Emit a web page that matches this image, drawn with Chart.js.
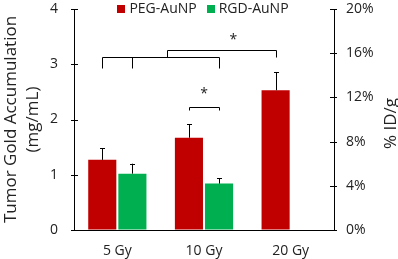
<!DOCTYPE html>
<html>
<head>
<meta charset="utf-8">
<script src="https://cdn.jsdelivr.net/npm/chart.js@4.4.1/dist/chart.umd.min.js"></script>
<style>
  html, body { margin: 0; padding: 0; background: #fff; }
  #wrap { width: 398px; height: 259px; }
</style>
</head>
<body>
<div id="wrap"><canvas id="c" width="398" height="259"></canvas></div>
<script>
// ---- data ----
const categories = ['5 Gy', '10 Gy', '20 Gy'];
const pegValues = [1.27, 1.67, 2.53];
const pegErrors = [0.21, 0.24, 0.33];
const rgdValues = [1.02, 0.84, null];
const rgdErrors = [0.18, 0.10, null];
const leftTicks = [0, 1, 2, 3, 4];
const rightTicks = [0, 4, 8, 12, 16, 20];
const seriesNames = ['PEG-AuNP', 'RGD-AuNP'];
const leftTitle = ['Tumor Gold Accumulation', '(mg/mL)'];
const rightTitle = '% ID/g';
// significance brackets: points are [x-ref, y-value]; x-ref is a bar {d,i} or a category position {c}
const bracketPaths = [
  [[{d:0,i:0}, 2.93], [{d:0,i:0}, 3.125], [{d:1,i:1}, 3.125], [{d:1,i:1}, 2.93]],
  [[{d:1,i:0}, 3.125], [{d:1,i:0}, 2.93]],
  [[{c:0.57}, 3.125], [{c:0.57}, 3.26], [{d:0,i:2}, 3.26], [{d:0,i:2}, 3.125]],
  [[{d:0,i:1}, 2.18], [{d:0,i:1}, 2.23], [{d:1,i:1}, 2.23], [{d:1,i:1}, 2.18]]
];
const stars = [[{c:1.34}, 3.44], [{c:1.0}, 2.46]];

const FONT = "'Open Sans', 'Noto Sans', sans-serif";
const TXT = '#222';

const overlay = {
  id: 'overlay',
  afterDatasetsDraw(chart) {
    const ctx = chart.ctx;
    const y = chart.scales.y, x = chart.scales.x, y2 = chart.scales.y2;
    const errs = [pegErrors, rgdErrors];
    ctx.save();
    ctx.strokeStyle = '#000';
    ctx.lineWidth = 1;
    chart.data.datasets.forEach((ds, d) => {
      const meta = chart.getDatasetMeta(d);
      meta.data.forEach((bar, i) => {
        const v = ds.data[i], e = errs[d][i];
        if (v == null || e == null) return;
        const top = y.getPixelForValue(v + e);
        const bx = Math.round(bar.x) + 0.5;
        ctx.beginPath();
        ctx.moveTo(bx, bar.y);
        ctx.lineTo(bx, top);
        ctx.moveTo(bx - 2.5, Math.round(top) + 0.5);
        ctx.lineTo(bx + 2.5, Math.round(top) + 0.5);
        ctx.stroke();
      });
    });
    const px = (ref) => ref.c !== undefined ? x.getPixelForValue(ref.c) : chart.getDatasetMeta(ref.d).data[ref.i].x;
    bracketPaths.forEach(path => {
      ctx.beginPath();
      path.forEach(([ref, v], k) => {
        const X = Math.round(px(ref)) + 0.5, Y = Math.round(y.getPixelForValue(v)) + 0.5;
        if (k === 0) ctx.moveTo(X, Y); else ctx.lineTo(X, Y);
      });
      ctx.stroke();
    });
    ctx.fillStyle = TXT;
    ctx.font = '14px ' + FONT;
    ctx.textAlign = 'center';
    ctx.textBaseline = 'middle';
    stars.forEach(([ref, v]) => ctx.fillText('*', px(ref), y.getPixelForValue(v)));
    // crossing tick marks on both value axes
    ctx.beginPath();
    leftTicks.forEach(t => { const Y = Math.round(y.getPixelForValue(t)) + 0.5; ctx.moveTo(y.right - 3, Y); ctx.lineTo(y.right + 4, Y); });
    rightTicks.forEach(t => { const Y = Math.round(y2.getPixelForValue(t)) + 0.5; ctx.moveTo(y2.left + 3, Y); ctx.lineTo(y2.left - 4, Y); });
    ctx.stroke();

    // legend (drawn from the datasets)
    ctx.font = '14px ' + FONT;
    ctx.textAlign = 'left';
    const box = 8, gapText = 4, gapItem = 10;
    const widths = chart.data.datasets.map(ds => box + gapText + ctx.measureText(ds.label).width);
    const total = widths.reduce((a, b) => a + b, 0) + gapItem * (widths.length - 1);
    let lx = (chart.chartArea.left + chart.chartArea.right) / 2 - total / 2 - 1;
    const ly = chart.chartArea.top;
    chart.data.datasets.forEach((ds, d) => {
      ctx.fillStyle = ds.backgroundColor;
      ctx.fillRect(Math.round(lx), Math.round(ly - 4), box, box);
      ctx.fillStyle = TXT;
      ctx.fillText(ds.label, lx + box + gapText, ly + 0.5);
      lx += widths[d] + gapItem;
    });

    // right axis title, reading bottom to top
    ctx.fillStyle = TXT;
    ctx.textAlign = 'center';
    ctx.font = '17px ' + FONT;
    ctx.translate(chart.chartArea.right + 57, (chart.chartArea.top + chart.chartArea.bottom) / 2 + 4);
    ctx.rotate(-Math.PI / 2);
    ctx.fillText(rightTitle, 0, 0);
    ctx.restore();
  }
};

new Chart(document.getElementById('c'), {
  type: 'bar',
  data: {
    labels: categories,
    datasets: [
      { label: seriesNames[0], data: pegValues, backgroundColor: '#C00000', borderWidth: 0 },
      { label: seriesNames[1], data: rgdValues, backgroundColor: '#00B050', borderWidth: 0 }
    ]
  },
  options: {
    responsive: false,
    animation: false,
    devicePixelRatio: 1,
    layout: { padding: { top: 9, left: 0, right: 0, bottom: 0 } },
    datasets: { bar: { categoryPercentage: 0.695, barPercentage: 0.933 } },
    plugins: {
      legend: { display: false },
      tooltip: { enabled: false }
    },
    scales: {
      x: {
        grid: { display: false },
        border: { display: true, color: '#000', width: 1 },
        ticks: { color: TXT, font: { family: FONT, size: 14 }, padding: 5 },
        afterFit(s) { s.height = 29; }
      },
      y: {
        position: 'left',
        min: 0, max: 4,
        afterBuildTicks(s) { s.ticks = leftTicks.map(v => ({ value: v })); },
        grid: { drawOnChartArea: false, drawTicks: true, tickLength: 16, tickColor: 'rgba(0,0,0,0)' },
        border: { display: true, color: '#000', width: 1 },
        ticks: { color: TXT, font: { family: FONT, size: 14 }, padding: 0 },
        title: { display: true, text: leftTitle, color: TXT, font: { family: FONT, size: 17, lineHeight: 1.25 }, padding: { top: 1, bottom: 0 } },
        afterFit(s) { s.width = 74; }
      },
      y2: {
        position: 'right',
        min: 0, max: 20,
        afterBuildTicks(s) { s.ticks = rightTicks.map(v => ({ value: v })); },
        grid: { drawOnChartArea: false, drawTicks: true, tickLength: 12, tickColor: 'rgba(0,0,0,0)' },
        border: { display: true, color: '#000', width: 1 },
        ticks: { color: TXT, font: { family: FONT, size: 14 }, padding: 0, callback: v => v + '%' },
        afterFit(s) { s.width = 64; }
      }
    }
  },
  plugins: [overlay]
});
</script>
</body>
</html>
